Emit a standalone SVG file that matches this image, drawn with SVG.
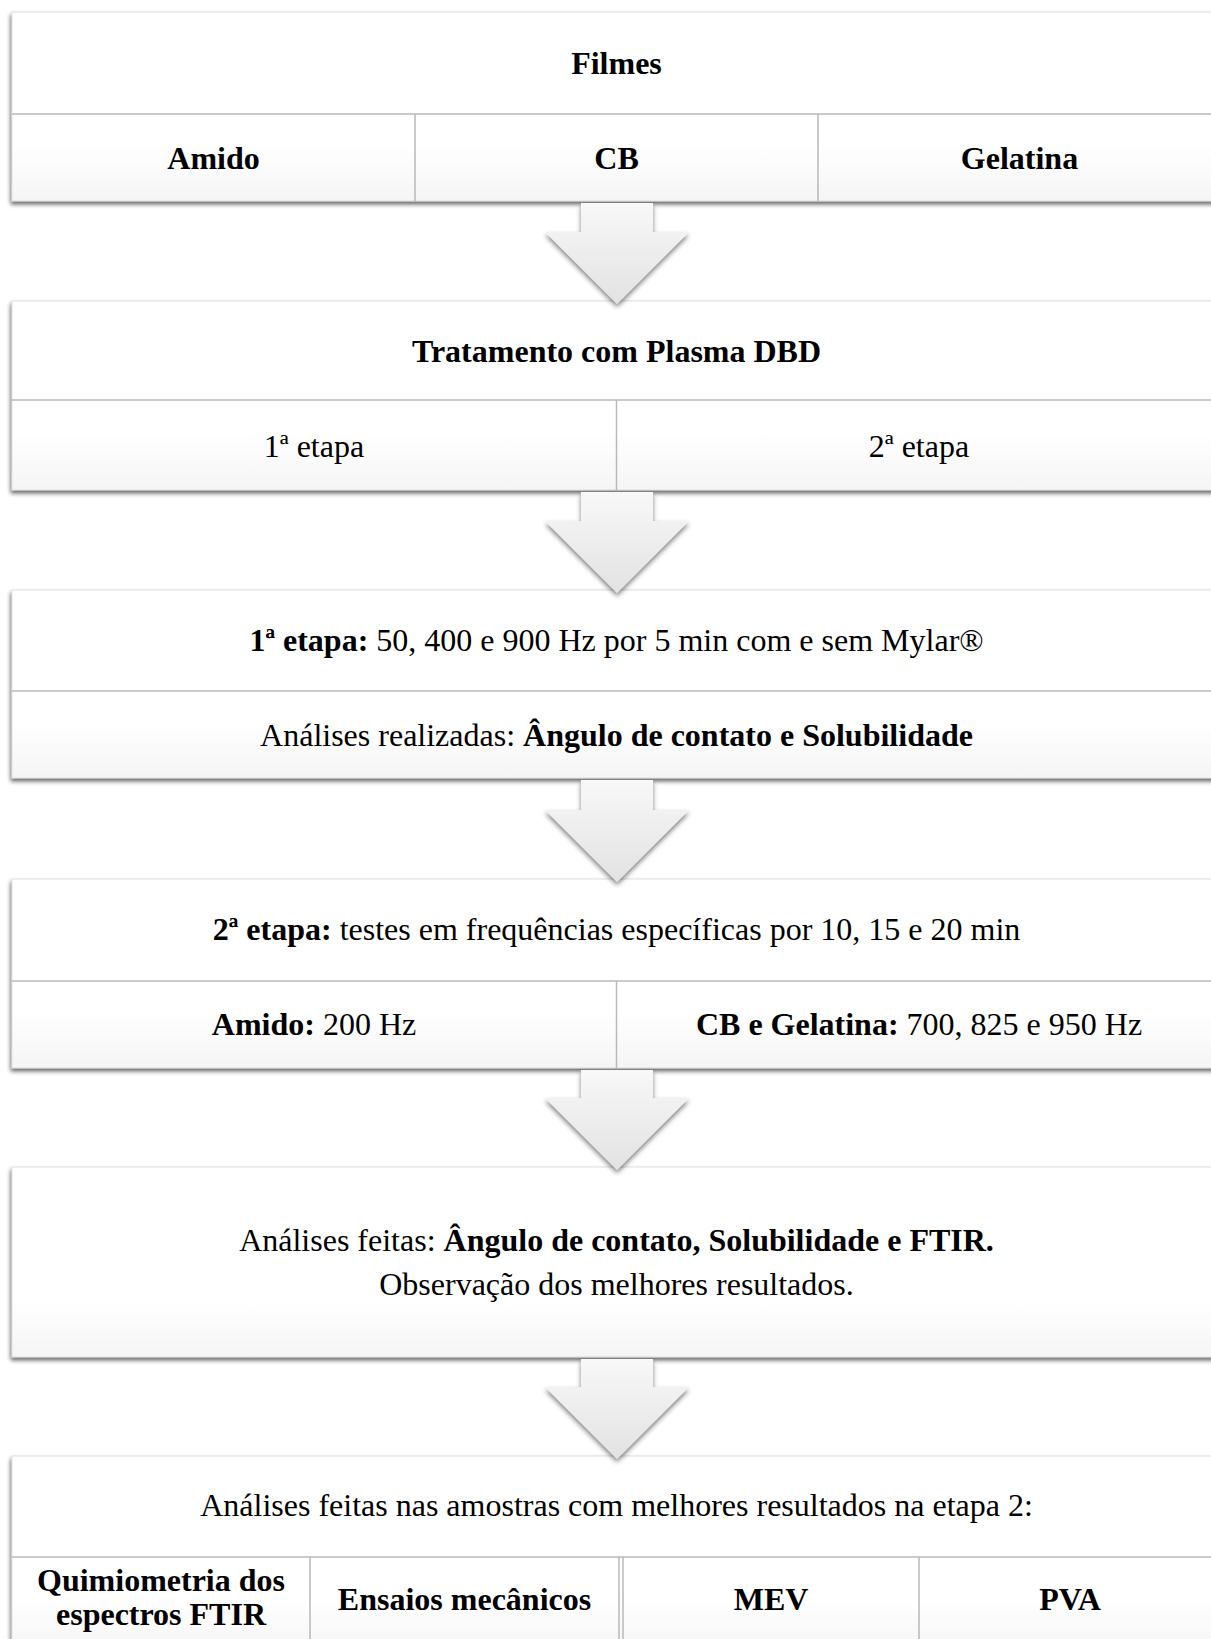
<svg xmlns="http://www.w3.org/2000/svg" width="1211" height="1639" viewBox="0 0 1211 1639">
<defs>
<style>
text{font-family:"Liberation Serif","Times New Roman",serif;font-size:32px;fill:#000;text-anchor:middle}
.b{font-weight:bold}
.box{fill:url(#bg);stroke:#d8d8d8;stroke-width:0.8;filter:url(#sh)}
.div{stroke:#b9b9b9;stroke-width:1.5;fill:none}
.arr{fill:url(#ag);filter:url(#ash)}
</style>
<linearGradient id="bg" x1="0" y1="0" x2="0" y2="1">
<stop offset="0" stop-color="#ffffff"/>
<stop offset="0.7" stop-color="#ffffff"/>
<stop offset="1" stop-color="#f5f5f5"/>
</linearGradient>
<linearGradient id="ag" x1="0" y1="0" x2="0" y2="1">
<stop offset="0" stop-color="#f8f8f8"/>
<stop offset="1" stop-color="#e2e2e2"/>
</linearGradient>
<filter id="sh" x="-3%" y="-15%" width="106%" height="140%">
<feGaussianBlur in="SourceAlpha" stdDeviation="2.2"/>
<feOffset dx="-1" dy="3" result="o"/>
<feComponentTransfer><feFuncA type="linear" slope="0.6"/></feComponentTransfer>
<feMerge><feMergeNode/><feMergeNode in="SourceGraphic"/></feMerge>
</filter>
<filter id="ash" x="-20%" y="-20%" width="140%" height="150%">
<feGaussianBlur in="SourceAlpha" stdDeviation="2.5"/>
<feOffset dx="0" dy="3" result="o"/>
<feComponentTransfer><feFuncA type="linear" slope="0.5"/></feComponentTransfer>
<feMerge><feMergeNode/><feMergeNode in="SourceGraphic"/></feMerge>
</filter>
</defs>

<g id="node-filmes">
<rect class="box" x="12" y="12" width="1209" height="189"/>
<line class="div" x1="12" y1="114" x2="1221" y2="114"/>
<line class="div" x1="415" y1="114" x2="415" y2="201"/>
<line class="div" x1="818" y1="114" x2="818" y2="201"/>
<text class="b" x="616.5" y="74">Filmes</text>
<text class="b" x="213.5" y="169">Amido</text>
<text class="b" x="616.5" y="169">CB</text>
<text class="b" x="1019.5" y="169">Gelatina</text>
</g>

<g id="node-tratamento">
<rect class="box" x="12" y="301" width="1209" height="189"/>
<line class="div" x1="12" y1="400" x2="1221" y2="400"/>
<line class="div" x1="616.5" y1="400" x2="616.5" y2="490"/>
<text class="b" x="616.5" y="362">Tratamento com Plasma DBD</text>
<text x="314" y="457">1ª etapa</text>
<text x="919" y="457">2ª etapa</text>
</g>

<g id="node-etapa1">
<rect class="box" x="12" y="590" width="1209" height="188"/>
<line class="div" x1="12" y1="691" x2="1221" y2="691"/>
<text x="616.5" y="651"><tspan class="b">1ª etapa:</tspan> 50, 400 e 900 Hz por 5 min com e sem Mylar®</text>
<text x="616.5" y="746">Análises realizadas: <tspan class="b">Ângulo de contato e Solubilidade</tspan></text>
</g>

<g id="node-etapa2">
<rect class="box" x="12" y="879" width="1209" height="189"/>
<line class="div" x1="12" y1="981" x2="1221" y2="981"/>
<line class="div" x1="616.5" y1="981" x2="616.5" y2="1068"/>
<text x="616.5" y="940"><tspan class="b">2ª etapa:</tspan> testes em frequências específicas por 10, 15 e 20 min</text>
<text x="314" y="1035"><tspan class="b">Amido:</tspan> 200 Hz</text>
<text x="919" y="1035"><tspan class="b">CB e Gelatina:</tspan> 700, 825 e 950 Hz</text>
</g>

<g id="node-analises">
<rect class="box" x="12" y="1167" width="1209" height="190"/>
<text x="616.5" y="1251">Análises feitas: <tspan class="b">Ângulo de contato, Solubilidade e FTIR.</tspan></text>
<text x="616.5" y="1295">Observação dos melhores resultados.</text>
</g>

<g id="node-final">
<rect class="box" x="12" y="1456" width="1209" height="200"/>
<line class="div" x1="12" y1="1557" x2="1221" y2="1557"/>
<line class="div" x1="310" y1="1557" x2="310" y2="1650"/>
<line class="div" x1="619" y1="1557" x2="619" y2="1650"/>
<line class="div" x1="623" y1="1557" x2="623" y2="1650"/>
<line class="div" x1="919" y1="1557" x2="919" y2="1650"/>
<text x="616.5" y="1516">Análises feitas nas amostras com melhores resultados na etapa 2:</text>
<text class="b" x="161" y="1591">Quimiometria dos</text>
<text class="b" x="161" y="1625">espectros FTIR</text>
<text class="b" x="464.5" y="1610">Ensaios mecânicos</text>
<text class="b" x="771" y="1610">MEV</text>
<text class="b" x="1070" y="1610">PVA</text>
</g>

<g id="connectors">
<path class="arr" d="M581,203 L653,203 L653,232 L689,232 L617,304 L545,232 L581,232 Z"/>
<path class="arr" d="M581,492 L653,492 L653,521 L689,521 L617,593 L545,521 L581,521 Z"/>
<path class="arr" d="M581,780 L653,780 L653,810 L689,810 L617,882 L545,810 L581,810 Z"/>
<path class="arr" d="M581,1070 L653,1070 L653,1098 L689,1098 L617,1170 L545,1098 L581,1098 Z"/>
<path class="arr" d="M581,1359 L653,1359 L653,1387 L689,1387 L617,1459 L545,1387 L581,1387 Z"/>
</g>
</svg>
